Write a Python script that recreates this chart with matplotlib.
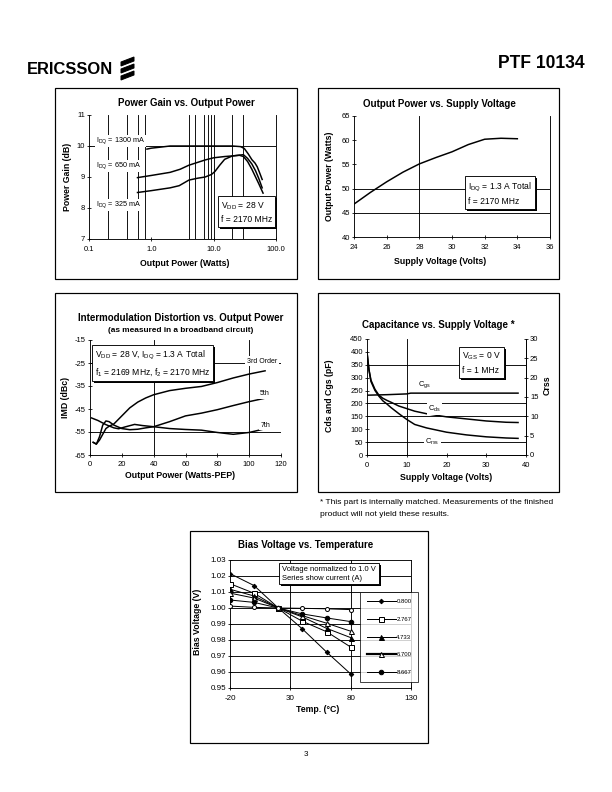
import copy
import matplotlib
matplotlib.use('Agg')
import matplotlib.pyplot as plt
import matplotlib.patheffects as pe
from matplotlib.patches import Rectangle, Polygon
from matplotlib.ticker import FixedLocator, FixedFormatter, NullLocator

plt.rcParams['font.family'] = ['Liberation Sans', 'DejaVu Sans']
plt.rcParams['mathtext.fontset'] = 'custom'
plt.rcParams['mathtext.rm'] = 'Liberation Sans'
plt.rcParams['mathtext.default'] = 'regular'
plt.rcParams['axes.unicode_minus'] = False

# ---------------- data ----------------
# Power gain vs output power
pg_x_1300 = [0.85, 1.0, 1.5, 2.0, 5.0, 10.0, 20.0, 27.0, 31.0, 36.0, 41.0, 46.0, 50.0, 55.0, 60.0]
pg_y_1300 = [9.90, 9.93, 9.97, 10.0, 10.0, 10.0, 10.0, 9.98, 9.92, 9.74, 9.56, 9.45, 9.33, 9.12, 8.92]
pg_x_650 = [0.6, 1.0, 2.0, 2.9, 4.0, 5.5, 7.3, 10.0, 15.0, 20.0, 30.0, 35.0, 41.0, 47.0, 53.0, 60.0]
pg_y_650 = [8.98, 9.05, 9.15, 9.25, 9.38, 9.47, 9.55, 9.62, 9.66, 9.68, 9.72, 9.60, 9.42, 9.20, 8.95, 8.65]
pg_x_325 = [0.6, 1.0, 2.0, 2.8, 4.0, 5.5, 7.3, 9.2, 10.5, 12.5, 15.0, 20.0, 26.0, 30.0, 35.0, 41.0, 47.0, 53.0, 62.0]
pg_y_325 = [8.50, 8.56, 8.65, 8.72, 8.90, 8.96, 9.00, 9.08, 9.18, 9.38, 9.57, 9.68, 9.70, 9.66, 9.50, 9.25, 9.00, 8.78, 8.48]

# Output power vs supply voltage
sv_volts = [24, 25, 26, 27, 28, 29, 30, 31, 32, 33, 34]
sv_power = [46.8, 49.2, 51.4, 53.4, 55.1, 56.4, 57.6, 59.1, 60.2, 60.4, 60.3]

# IMD vs output power
imd_x3 = [2, 4, 6, 8, 10, 12, 15, 20, 25, 30, 35, 40, 50, 60, 70, 80, 90, 100, 110]
imd_y3 = [-59.5, -60.2, -58.5, -56, -53.5, -52.5, -51.5, -48, -44.5, -42, -40.2, -38.8, -37, -36, -35.2, -33.5, -31.5, -29.8, -28.4]
imd_x5 = [2, 4, 6, 8, 10, 12, 15, 20, 25, 30, 35, 40, 50, 60, 70, 80, 90, 100, 110]
imd_y5 = [-59.5, -60.3, -57, -52, -50.2, -50.5, -52, -53.5, -54, -53.8, -53.2, -52.7, -50.5, -48, -46.8, -45.3, -43.5, -41.8, -40.3]
imd_x7 = [1, 5, 10, 15, 18, 22, 28, 33, 40, 50, 60, 70, 80, 90, 100, 110]
imd_y7 = [-48.9, -50, -51.8, -53.2, -53.6, -52.8, -51.7, -52.2, -52.7, -53.5, -53.9, -54.2, -55.2, -56, -55.2, -53.6]

# Capacitance vs supply voltage
cap_v = [0, 0.5, 1, 2, 3, 4, 5, 6, 8, 10, 12, 15, 20, 25, 30, 35, 38]
cap_cds = [400, 330, 290, 255, 232, 220, 212, 205, 190, 180, 170, 160, 148, 140, 132, 127, 126]
cap_crss = [26.5, 22, 19, 16.7, 15.2, 14, 13.2, 12.3, 10.7, 9.2, 7.9, 7, 5.9, 5.2, 4.7, 4.4, 4.3]
cgs_v = [0, 5, 10, 11, 15, 20, 25, 30, 35, 38]
cgs_pf = [232, 234, 237, 240, 240, 240, 240, 240, 240, 240]

# Bias voltage vs temperature
temps = [-20, 0, 20, 40, 60, 80]
bias_0800 = [1.0215, 1.0140, 1.0000, 0.9869, 0.9725, 0.9588]
bias_2767 = [1.0152, 1.0092, 1.0000, 0.9917, 0.9852, 0.9756]
bias_4733 = [1.0117, 1.0075, 1.0000, 0.9944, 0.9873, 0.9815]
bias_6700 = [1.0093, 1.0062, 1.0000, 0.9952, 0.9905, 0.9855]
bias_8667 = [1.0050, 1.0035, 1.0000, 0.9963, 0.9938, 0.9915]
bias_10633 = [1.0012, 1.0004, 1.0000, 0.9998, 0.9995, 0.9990]
bias_labels = ['0.800', '2.767', '4.733', '6.700', '8.667']

# ---------------- figure ----------------
W, H = 612, 792
fig = plt.figure(figsize=(W / 72, H / 72), dpi=72)
fig.patch.set_facecolor('white')


def add_ax(x0, y0, x1, y1):
    return fig.add_axes([x0 / W, 1 - y1 / H, (x1 - x0) / W, (y1 - y0) / H])


def frame(x0, y0, x1, y1):
    fig.patches.append(Rectangle((x0 / W, 1 - y1 / H), (x1 - x0) / W, (y1 - y0) / H,
                                 transform=fig.transFigure, fill=False, ec='black', lw=1.2))


def ftext(x, y, s, **kw):
    return fig.text(x / W, 1 - y / H, s, **kw)


def style(ax, right=False, top=False, size=7.6):
    ax.spines['top'].set_visible(top)
    ax.spines['right'].set_visible(right)
    for sp in ax.spines.values():
        sp.set_linewidth(0.9)
    ax.tick_params(direction='inout', length=4, width=0.8, labelsize=size, pad=2)
    ax.set_facecolor('none')


def shadow_box(x, y, s, size=8.5, ls=1.45):
    t = ftext(x, y, s, fontsize=size, ha='left', va='top', linespacing=ls,
              bbox=dict(boxstyle='square,pad=0.35', fc='white', ec='black', lw=0.9), zorder=10)
    t.get_bbox_patch().set_path_effects([pe.withSimplePatchShadow(offset=(2, -2), shadow_rgbFace='black', alpha=1.0)])
    return t


# header
ftext(27, 70, 'ERICSSON', fontsize=16.5, fontweight='bold', ha='left', va='center')
for yc in (61.5, 68.5, 75.5):
    pts = [(121, yc + 4.5), (121, yc + 0.5), (134, yc - 4.5), (134, yc - 0.5)]
    fig.patches.append(Polygon([(px / W, 1 - py / H) for px, py in pts], closed=True,
                               transform=fig.transFigure, fc='black', ec='black'))
ftext(585, 63, 'PTF 10134', fontsize=17.5, fontweight='bold', ha='right', va='center')
ftext(306, 755, '3', fontsize=8, ha='center', va='center')

# panel frames
frame(55, 88, 297, 279)
frame(318, 88, 559, 279)
frame(55, 293, 297, 492)
frame(318, 293, 559, 492)
frame(190, 531, 428, 743)

TS = 9.8  # title size
LS = 8.8  # label size

# ---------- Panel 1: Power Gain ----------
ax1 = add_ax(89, 115, 276, 239)
style(ax1, right=True)
ax1.set_xscale('log')
ax1.set_xlim(0.1, 100)
ax1.set_ylim(7, 11)
ax1.xaxis.set_major_locator(FixedLocator([0.1, 1, 10, 100]))
ax1.xaxis.set_major_formatter(FixedFormatter(['0.1', '1.0', '10.0', '100.0']))
ax1.xaxis.set_minor_locator(NullLocator())
ax1.set_yticks([7, 8, 9, 10, 11])
ax1.tick_params(axis='x', pad=5)
for gx in [0.2, 0.4, 0.6, 0.8, 4, 5, 7, 8, 9, 10, 20, 30]:
    ax1.axvline(gx, color='black', lw=0.9, zorder=1)
ax1.axhline(10, color='black', lw=0.9, zorder=1)
ax1.plot(pg_x_1300, pg_y_1300, color='black', lw=1.5, zorder=3)
ax1.plot(pg_x_650, pg_y_650, color='black', lw=1.5, zorder=3)
ax1.plot(pg_x_325, pg_y_325, color='black', lw=1.5, zorder=3)
for yy, lab in [(141, 'I$_{DQ}$ = 1300 mA'), (166, 'I$_{DQ}$ = 650 mA'), (205, 'I$_{DQ}$ = 325 mA')]:
    ftext(96, yy, lab, fontsize=7.3, ha='left', va='center',
          bbox=dict(boxstyle='square,pad=0.15', fc='white', ec='none'), zorder=9)
shadow_box(221, 200, 'V$_{DD}$ = 28 V\nf = 2170 MHz')
ftext(186, 103, 'Power Gain vs. Output Power', fontsize=TS, fontweight='bold', ha='center', va='center')
ftext(185, 263, 'Output Power (Watts)', fontsize=LS, fontweight='bold', ha='center', va='center')
ftext(67, 177, 'Power Gain (dB)', fontsize=LS, fontweight='bold', ha='center', va='center', rotation=90)

# ---------- Panel 2: Output power vs supply voltage ----------
ax2 = add_ax(354, 116, 550, 237)
style(ax2, right=True)
ax2.set_xlim(24, 36)
ax2.set_ylim(40, 65)
ax2.set_xticks(range(24, 37, 2))
ax2.set_yticks(range(40, 66, 5))
ax2.tick_params(axis='x', pad=5)
ax2.axvline(28, color='black', lw=0.9, zorder=1)
for gy in (45, 50):
    ax2.axhline(gy, color='black', lw=0.9, zorder=1)
ax2.plot(sv_volts, sv_power, color='black', lw=1.5, zorder=3)
shadow_box(468, 181, 'I$_{DQ}$ = 1.3 A Total\nf = 2170 MHz')
ftext(439, 104, 'Output Power vs. Supply Voltage', fontsize=TS, fontweight='bold', ha='center', va='center')
ftext(440, 261, 'Supply Voltage (Volts)', fontsize=LS, fontweight='bold', ha='center', va='center')
ftext(330, 176, 'Output Power (Watts)', fontsize=LS, fontweight='bold', ha='center', va='center', rotation=90)

# ---------- Panel 3: IMD ----------
ax3 = add_ax(90, 340, 281, 455)
style(ax3)
ax3.set_xlim(0, 120)
ax3.set_ylim(-65, -15)
ax3.set_xticks(range(0, 121, 20))
ax3.set_yticks(range(-65, -14, 10))
ax3.tick_params(axis='x', pad=4)
for gx in (40, 100):
    ax3.axvline(gx, color='black', lw=0.9, zorder=1)
for gy in (-25, -55):
    ax3.axhline(gy, color='black', lw=0.9, zorder=1)
ax3.plot(imd_x3, imd_y3, color='black', lw=1.5, zorder=3)
ax3.plot(imd_x5, imd_y5, color='black', lw=1.5, zorder=3)
ax3.plot(imd_x7, imd_y7, color='black', lw=1.5, zorder=3)
for xx, yy, lab in [(262, 361, '3rd Order'), (265, 394, '5th'), (266, 425, '7th')]:
    ftext(xx, yy, lab, fontsize=7, ha='center', va='center',
          bbox=dict(boxstyle='square,pad=0.25', fc='white', ec='none'), zorder=9)
shadow_box(95, 349, 'V$_{DD}$ = 28 V, I$_{DQ}$ = 1.3 A Total\nf$_1$ = 2169 MHz, f$_2$ = 2170 MHz')
ftext(181, 318, 'Intermodulation Distortion vs. Output Power', fontsize=TS, fontweight='bold', ha='center', va='center')
ftext(181, 330, '(as measured in a broadband circuit)', fontsize=8.2, fontweight='bold', ha='center', va='center')
ftext(180, 476, 'Output Power (Watts-PEP)', fontsize=LS, fontweight='bold', ha='center', va='center')
ftext(65, 397, 'IMD (dBc)', fontsize=LS, fontweight='bold', ha='center', va='center', rotation=90)

# ---------- Panel 4: Capacitance ----------
ax4 = add_ax(367, 339, 526, 455)
style(ax4, right=True)
ax4.set_xlim(0, 40)
ax4.set_ylim(0, 450)
ax4.set_xticks(range(0, 41, 10))
ax4.set_yticks(range(0, 451, 50))
ax4.tick_params(axis='x', pad=5)
ax4.axvline(10, color='black', lw=0.9, zorder=1)
for gy in (50, 150, 200, 350):
    ax4.axhline(gy, color='black', lw=0.9, zorder=1)
ax4b = ax4.twinx()
style(ax4b, right=True)
ax4b.spines['left'].set_visible(False)
ax4b.set_ylim(0, 30)
ax4b.set_yticks(range(0, 31, 5))
ax4.plot(cgs_v, cgs_pf, color='black', lw=1.5, zorder=3)
ax4.plot(cap_v, cap_cds, color='black', lw=1.5, zorder=3)
ax4b.plot(cap_v, cap_crss, color='black', lw=1.5, zorder=3)
for xx, yy, lab in [(14.5, 272, 'C$_{gs}$'), (17.0, 180, 'C$_{ds}$'), (16.5, 50, 'C$_{rss}$')]:
    ax4.text(xx, yy, lab, fontsize=7.5, ha='center', va='center', zorder=9,
             bbox=dict(boxstyle='square,pad=0.2', fc='white', ec='none'))
shadow_box(462, 351, 'V$_{GS}$ = 0 V\nf = 1 MHz')
ftext(438, 325, 'Capacitance vs. Supply Voltage *', fontsize=TS, fontweight='bold', ha='center', va='center')
ftext(446, 478, 'Supply Voltage (Volts)', fontsize=LS, fontweight='bold', ha='center', va='center')
ftext(330, 396, 'Cds and Cgs (pF)', fontsize=LS, fontweight='bold', ha='center', va='center', rotation=90)
ftext(547, 385, 'Crss', fontsize=LS, fontweight='bold', ha='center', va='center', rotation=90)
ftext(320, 503, '* This part is internally matched. Measurements of the finished', fontsize=8.4, ha='left', va='center')
ftext(320, 515, 'product will not yield these results.', fontsize=8.4, ha='left', va='center')

# ---------- Panel 5: Bias voltage ----------
ax5 = add_ax(230, 560, 411, 688)
style(ax5, right=True, top=True, size=8)
ax5.set_xlim(-20, 130)
ax5.set_ylim(0.95, 1.03)
ax5.set_xticks([-20, 30, 80, 130])
ax5.set_yticks([0.95, 0.96, 0.97, 0.98, 0.99, 1.00, 1.01, 1.02, 1.03])
ax5.set_yticklabels(['%.2f' % v for v in [0.95, 0.96, 0.97, 0.98, 0.99, 1.00, 1.01, 1.02, 1.03]])
ax5.tick_params(axis='x', pad=5)
for gy in [0.96, 0.97, 0.98, 0.99, 1.00, 1.01, 1.02]:
    ax5.axhline(gy, color='black', lw=0.9, zorder=1)
for gx in (30, 80):
    ax5.axvline(gx, color='black', lw=0.9, zorder=1)
series = [
    (bias_0800, dict(marker='D', ms=3.2, mfc='black', mec='black', lw=1.0)),
    (bias_2767, dict(marker='s', ms=5, mfc='white', mec='black', lw=1.0)),
    (bias_4733, dict(marker='^', ms=5, mfc='black', mec='black', lw=1.0)),
    (bias_6700, dict(marker='^', ms=5, mfc='white', mec='black', lw=1.0)),
    (bias_8667, dict(marker='o', ms=4.5, mfc='black', mec='black', lw=1.0)),
]
handles = []
for (vals, kw), lab in zip(series, bias_labels):
    h, = ax5.plot(temps, vals, color='black', zorder=4, label=lab, **kw)
    handles.append(h)
ax5.plot(temps, bias_10633, color='black', lw=1.0, marker='o', ms=4, mfc='white', mec='black', zorder=4)
leg_handles = []
for i, h in enumerate(handles):
    hh = copy.copy(h)
    if i == 3:
        hh.set_linewidth(2.2)
    leg_handles.append(hh)
leg = ax5.legend(leg_handles, bias_labels, loc='upper left',
                 bbox_to_anchor=(360 / W, 1 - 592 / H), bbox_transform=fig.transFigure,
                 fontsize=6, frameon=True, fancybox=False, edgecolor='black',
                 handlelength=4.8, handletextpad=0.1, labelspacing=2.1, borderpad=1.15,
                 borderaxespad=0)
leg.get_frame().set_linewidth(0.9)
leg.set_zorder(10)
shadow_box(282, 566, 'Voltage normalized to 1.0 V\nSeries show current (A)', size=7.6, ls=1.35)
ftext(306, 545, 'Bias Voltage vs. Temperature', fontsize=TS, fontweight='bold', ha='center', va='center')
ftext(318, 710, 'Temp. (°C)', fontsize=LS, fontweight='bold', ha='center', va='center')
ftext(197, 622, 'Bias Voltage (V)', fontsize=LS, fontweight='bold', ha='center', va='center', rotation=90)

fig.savefig('out.png', dpi=72, facecolor='white')
